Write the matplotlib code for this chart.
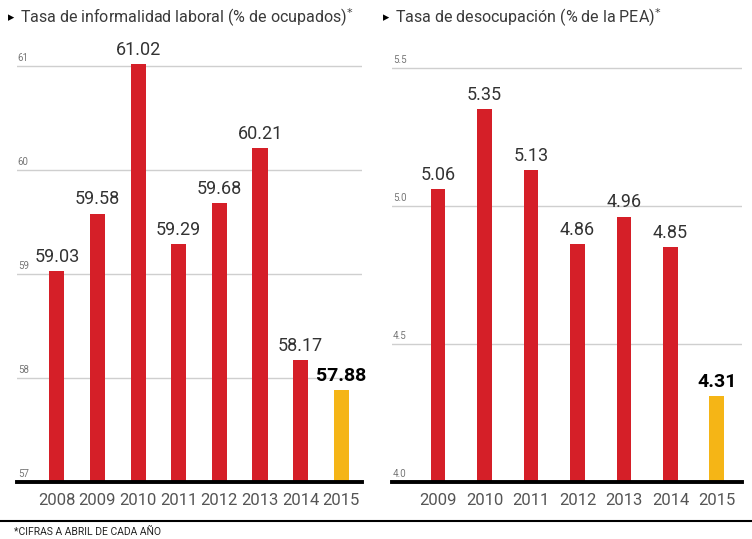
import matplotlib
matplotlib.use("Agg")
import matplotlib.pyplot as plt

plt.rcParams["font.family"] = ["Roboto", "DejaVu Sans"]

years_inf = ["2008", "2009", "2010", "2011", "2012", "2013", "2014", "2015"]
informalidad = [59.03, 59.58, 61.02, 59.29, 59.68, 60.21, 58.17, 57.88]
inf_ticks = [58, 59, 60, 61]

years_des = ["2009", "2010", "2011", "2012", "2013", "2014", "2015"]
desocupacion = [5.06, 5.35, 5.13, 4.86, 4.96, 4.85, 4.31]
des_ticks = [4.5, 5.0, 5.5]

RED = "#d51f28"
YELLOW = "#f5b516"
W, H = 752, 539

fig = plt.figure(figsize=(W / 100, H / 100), dpi=100, facecolor="white")


def panel(px0, px1, ylim, xlim, width, years, vals, ticks, fmt, tick_fmt, title):
    ax = fig.add_axes([px0 / W, 1 - 482 / H, (px1 - px0) / W, (482 - 40) / H])
    xs = list(range(len(vals)))
    colors = [RED] * (len(vals) - 1) + [YELLOW]
    ax.bar(xs, [v - ylim[0] for v in vals], bottom=ylim[0], width=width, color=colors, zorder=2)
    ax.set_xlim(*xlim)
    ax.set_ylim(*ylim)
    for s in ax.spines.values():
        s.set_visible(False)
    ax.set_yticks([])
    ax.set_xticks([])
    for t in ticks:
        ax.axhline(t, color="#cfcfcf", lw=1, zorder=1)
    for t in [ylim[0]] + ticks:
        ax.text(xlim[0] + 0.02, t + (ylim[1] - ylim[0]) * 0.006, tick_fmt(t), fontsize=7,
                color="#777777", ha="left", va="bottom")
    ax.axhline(ylim[0], color="black", lw=2.8, zorder=3, clip_on=False)
    dy = (ylim[1] - ylim[0]) * 0.012
    for i, v in enumerate(vals):
        last = i == len(vals) - 1
        ax.text(i, v + dy, fmt(v), ha="center", va="bottom",
                fontsize=14 if last else 13, fontweight="bold" if last else "normal",
                color="black" if last else "#333333")
        ax.text(i, ylim[0] - (ylim[1] - ylim[0]) * 0.025, years[i], ha="center", va="top",
                fontsize=12, color="#555555")
    fig.text(px0 / W - 0.012, 1 - 18 / H, "\u25b8", fontsize=9, color="black",
             ha="left", va="center", family=["DejaVu Sans"])
    fig.text(px0 / W + 0.004, 1 - 18 / H, title + "$^{*}$", fontsize=11.5, color="#3a3a3a",
             ha="left", va="center")
    return ax


panel(17, 362, (57, 61.25), (-0.98, 7.51), 0.37, years_inf, informalidad, inf_ticks,
      lambda v: f"{v:.2f}", lambda t: f"{t:g}",
      "Tasa de informalidad laboral (% de ocupados)")
panel(392, 742, (4.0, 5.6), (-0.99, 6.54), 0.32, years_des, desocupacion, des_ticks,
      lambda v: f"{v:.2f}", lambda t: f"{t:.1f}",
      "Tasa de desocupaci\u00f3n (% de la PEA)")

fig.add_artist(plt.Line2D([0, 1], [1 - 521 / H, 1 - 521 / H], color="black", lw=1.5))
fig.text(14 / W, 1 - 532 / H, "*CIFRAS A ABRIL DE CADA A\u00d1O", fontsize=7.5,
         color="#222222", ha="left", va="center")

fig.savefig("out.png", dpi=100, facecolor="white")
